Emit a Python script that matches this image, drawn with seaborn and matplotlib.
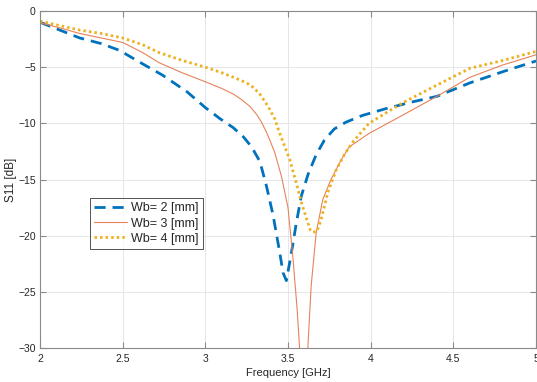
import numpy as np
import pandas as pd
import matplotlib
matplotlib.use("Agg")
import matplotlib.pyplot as plt
import seaborn as sns

# ---- data ----
freq_wb2 = [2.0, 2.12, 2.24, 2.37, 2.48, 2.62, 2.74, 2.89, 3.0, 3.09, 3.17, 3.23, 3.28, 3.33,
            3.37, 3.41, 3.45, 3.47, 3.49, 3.51, 3.53, 3.55, 3.58, 3.62, 3.67, 3.72,
            3.78, 3.85, 3.95, 4.09, 4.25, 4.4, 4.6, 4.8, 5.0]
s11_wb2 = [-1.0, -1.7, -2.4, -2.9, -3.5, -4.7, -5.7, -7.2, -8.6, -9.6, -10.4, -11.2, -12.1, -13.4,
           -15.6, -18.2, -21.5, -23.3, -24.0, -22.4, -20.7, -18.9, -16.5, -14.6, -12.8, -11.5,
           -10.5, -9.9, -9.3, -8.7, -8.1, -7.6, -6.4, -5.4, -4.45]

freq_wb3 = [2.0, 2.12, 2.24, 2.37, 2.5, 2.62, 2.72, 2.86, 3.0, 3.1, 3.17, 3.22, 3.27, 3.31,
            3.34, 3.37, 3.39, 3.42, 3.46, 3.5, 3.53, 3.555, 3.57, 3.595, 3.62, 3.64, 3.67,
            3.71, 3.76, 3.82, 3.87, 3.99, 4.19, 4.4, 4.6, 4.8, 5.0]
s11_wb3 = [-1.05, -1.5, -2.0, -2.4, -2.8, -3.7, -4.6, -5.5, -6.3, -6.9, -7.4, -7.9, -8.5, -9.2,
           -9.9, -10.8, -11.5, -12.6, -14.7, -17.5, -22.0, -26.5, -30.0, -33.0, -30.0, -24.5,
           -19.8, -16.8, -15.0, -13.3, -12.1, -10.9, -9.3, -7.6, -5.9, -4.8, -3.9]

freq_wb4 = [2.0, 2.12, 2.24, 2.37, 2.5, 2.62, 2.72, 2.86, 3.0, 3.1, 3.17, 3.25, 3.29, 3.33,
            3.38, 3.42, 3.45, 3.51, 3.55, 3.58, 3.61, 3.635, 3.65, 3.675, 3.7, 3.74, 3.79,
            3.84, 3.89, 3.99, 4.19, 4.4, 4.6, 4.8, 5.0]
s11_wb4 = [-0.9, -1.3, -1.7, -2.0, -2.4, -3.0, -3.7, -4.4, -5.0, -5.5, -5.9, -6.4, -6.8, -7.4,
           -8.5, -9.6, -10.9, -13.2, -15.3, -17.0, -18.4, -19.5, -19.7, -19.6, -18.6, -16.2, -14.2,
           -12.8, -11.7, -10.0, -8.2, -6.6, -5.1, -4.4, -3.6]

labels = ["Wb= 2 [mm]", "Wb= 3 [mm]", "Wb= 4 [mm]"]
xticks = [2, 2.5, 3, 3.5, 4, 4.5, 5]
xtick_labels = ["2", "2.5", "3", "3.5", "4", "4.5", "5"]
yticks = [-30, -25, -20, -15, -10, -5, 0]

sns.set_theme(style="white")
plt.rcParams['font.family'] = ['Liberation Sans', 'DejaVu Sans']

fig = plt.figure(figsize=(5.37, 3.82), dpi=100)
ax = fig.add_axes([40 / 537, 1 - 348 / 382, 496 / 537, 337 / 382])

df2 = pd.DataFrame({"f": freq_wb2, "s": s11_wb2})
df3 = pd.DataFrame({"f": freq_wb3, "s": s11_wb3})
df4 = pd.DataFrame({"f": freq_wb4, "s": s11_wb4})

sns.lineplot(data=df2, x="f", y="s", ax=ax, sort=False, estimator=None,
             color="#0072BD", linewidth=2.0, label=labels[0])
sns.lineplot(data=df3, x="f", y="s", ax=ax, sort=False, estimator=None,
             color="#E8825A", linewidth=0.8, label=labels[1])
sns.lineplot(data=df4, x="f", y="s", ax=ax, sort=False, estimator=None,
             color="#EDB120", linewidth=2.0, label=labels[2])
lines = ax.get_lines()
lines[0].set_dashes((4, 2.5))
lines[2].set_dashes((0.9, 1.1))

ax.set_xlim(2, 5)
ax.set_ylim(-30, 0)
ax.set_xticks(xticks)
ax.set_xticklabels(xtick_labels)
ax.set_yticks(yticks)
ax.grid(True, color="#e6e6e6", linewidth=0.7)
ax.set_axisbelow(True)
for side in ["top", "right", "bottom", "left"]:
    ax.spines[side].set_visible(True)
    ax.spines[side].set_color("#8a8a8a")
    ax.spines[side].set_linewidth(0.8)
ax.tick_params(direction="in", length=4, width=0.8, color="#8a8a8a",
               labelsize=7.5, labelcolor="#262626", top=True, right=True,
               bottom=True, left=True, labeltop=False, labelright=False)
ax.tick_params(axis="x", pad=4)
ax.tick_params(axis="y", pad=3)
ax.set_xlabel("Frequency [GHz]", fontsize=8, color="#262626", labelpad=3)
ax.set_ylabel("S11 [dB]", fontsize=8.5, color="#262626", labelpad=1)

leg = ax.legend(loc="upper left", bbox_to_anchor=((90 - 40) / 496, (348 - 198) / 337),
                borderaxespad=0, fontsize=9, frameon=True, fancybox=False,
                handlelength=2.6, handletextpad=0.3, borderpad=0.35, labelspacing=0.25)
leg.get_frame().set_edgecolor("#262626")
leg.get_frame().set_linewidth(0.7)

fig.savefig("out.png", dpi=100)
